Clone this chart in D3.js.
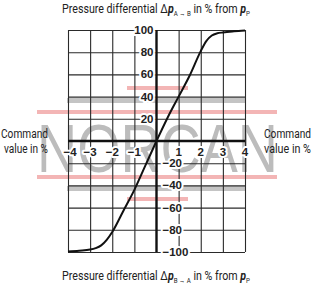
<!DOCTYPE html>
<html>
<head>
<meta charset="utf-8">
<script src="https://cdn.jsdelivr.net/npm/d3@7"></script>
<style>
  html, body { margin: 0; padding: 0; background: #fff; }
  svg { display: block; }
  text { font-family: Roboto, "Liberation Sans", sans-serif; fill: #222; }
</style>
</head>
<body>
<svg id="chart" width="315" height="288"></svg>
<script>
// command value (%) and resulting pressure differential (%)
const cmdValues = [-4, -3.5, -3, -2.75, -2.5, -2.25, -2, -1.5, -1, -0.5, 0, 0.5, 1, 1.5, 2, 2.25, 2.5, 2.75, 3, 3.5, 4];
const pressureDiff = [-99.5, -98.8, -97.8, -96.5, -94, -89, -82, -63, -44, -22, 0, 21, 40, 59, 81, 90, 95, 97, 97.8, 98.8, 99.5];

const xTicks = [-4, -3, -2, -1, 1, 2, 3, 4];
const yTicksPos = [100, 80, 60, 40, 20];
const yTicksNeg = [-20, -40, -60, -80, -100];

const svg = d3.select("#chart");

const x = d3.scaleLinear().domain([-4, 4]).range([68, 245]);
const y = d3.scaleLinear().domain([-100, 100]).range([252, 30]);

// watermark (drawn under the grid)
const wm = svg.append("g").attr("class", "watermark");
wm.append("text")
  .attr("x", 37).attr("y", 172)
  .attr("textLength", 241).attr("lengthAdjust", "spacingAndGlyphs")
  .style("font-family", "Liberation Sans, sans-serif")
  .style("font-size", "69px")
  .style("fill", "#bcbcbc")
  .text("NORCAN");
wm.selectAll("rect.gray")
  .data([98, 186])
  .join("rect")
  .attr("x", 67).attr("y", d => d).attr("width", 178).attr("height", 5)
  .attr("fill", "#c4c4c4");
wm.selectAll("rect.pinkLong")
  .data([110, 175])
  .join("rect")
  .attr("x", 37).attr("y", d => d).attr("width", 240).attr("height", 4)
  .attr("fill", "#f3b5b5");
wm.selectAll("rect.pinkShort")
  .data([86, 197])
  .join("rect")
  .attr("x", 127).attr("y", d => d).attr("width", 61).attr("height", 4)
  .attr("fill", "#f3b5b5");

// grid lines through the axis generators
const gridV = svg.append("g")
  .attr("transform", `translate(0,${y(-100)})`)
  .call(d3.axisBottom(x).tickValues([-4, -3, -2, -1, 1, 2, 3, 4])
    .tickSize(-(y(-100) - y(100))).tickFormat(""));
const gridH = svg.append("g")
  .attr("transform", `translate(${x(-4)},0)`)
  .call(d3.axisLeft(y).tickValues([-100, -80, -60, -40, -20, 20, 40, 60, 80, 100])
    .tickSize(-(x(4) - x(-4))).tickFormat(""));
[gridV, gridH].forEach(g => {
  g.select(".domain").remove();
  g.selectAll("line").attr("stroke", "#2a2a2a").attr("stroke-width", 1.1);
});

// main axes
svg.append("line")
  .attr("x1", x(-4)).attr("x2", x(4))
  .attr("y1", y(0)).attr("y2", y(0))
  .attr("stroke", "#111").attr("stroke-width", 2.4);
svg.append("line")
  .attr("x1", x(0)).attr("x2", x(0))
  .attr("y1", y(100)).attr("y2", y(-100))
  .attr("stroke", "#111").attr("stroke-width", 2.4);

// characteristic curve
const pts = cmdValues.map((c, i) => [c, pressureDiff[i]]);
svg.append("path")
  .datum(pts)
  .attr("fill", "none")
  .attr("stroke", "#111")
  .attr("stroke-width", 2)
  .attr("d", d3.line().x(d => x(d[0])).y(d => y(d[1])).curve(d3.curveMonotoneX));

// tick labels with white halo
const fmt = v => (v < 0 ? "\u2212" + Math.abs(v) : String(v));
function halo(sel) {
  sel.style("font-family", "Liberation Sans, Arial, sans-serif")
    .style("font-weight", "bold")
    .style("font-size", "11.5px")
    .style("stroke", "#fff").style("stroke-width", 4)
    .style("paint-order", "stroke")
    .style("stroke-linejoin", "round");
}
svg.append("g").selectAll("text")
  .data(xTicks)
  .join("text")
  .attr("x", d => x(d) + (d === -4 ? 2 : 0))
  .attr("y", 156)
  .attr("text-anchor", "middle")
  .text(fmt)
  .call(halo);
svg.append("g").selectAll("text")
  .data(yTicksPos)
  .join("text")
  .attr("x", x(0) - 3)
  .attr("y", d => y(d) + 4)
  .attr("text-anchor", "end")
  .text(fmt)
  .call(halo);
svg.append("g").selectAll("text")
  .data(yTicksNeg)
  .join("text")
  .attr("x", x(0) + 6)
  .attr("y", d => y(d) + 4)
  .attr("text-anchor", "start")
  .text(fmt)
  .call(halo);

// side labels
[[1, "Command", 137.5, 47], [4, "value in %", 152.5, 44], [264, "Command", 137.5, 47], [264, "value in %", 152.5, 47]]
  .forEach(([tx, t, ty, w]) => {
    svg.append("text").attr("x", tx).attr("y", ty)
      .attr("textLength", w).attr("lengthAdjust", "spacingAndGlyphs")
      .style("font-size", "12.5px")
      .text(t);
  });

// titles
function title(ty, sub) {
  const t = svg.append("text").attr("x", 62).attr("y", ty)
    .attr("textLength", 188).attr("lengthAdjust", "spacingAndGlyphs")
    .style("font-size", "13px");
  t.append("tspan").text("Pressure differential \u0394");
  t.append("tspan").style("font-weight", "bold").style("font-style", "italic").text("p");
  t.append("tspan").attr("dy", 3).style("font-size", "7.5px").text(sub);
  t.append("tspan").attr("dy", -3).text(" in % from ");
  t.append("tspan").style("font-weight", "bold").style("font-style", "italic").text("p");
  t.append("tspan").attr("dy", 3).style("font-size", "7.5px").text("P");
}
title(13, "A \u2192 B");
title(280, "B \u2192 A");
</script>
</body>
</html>
